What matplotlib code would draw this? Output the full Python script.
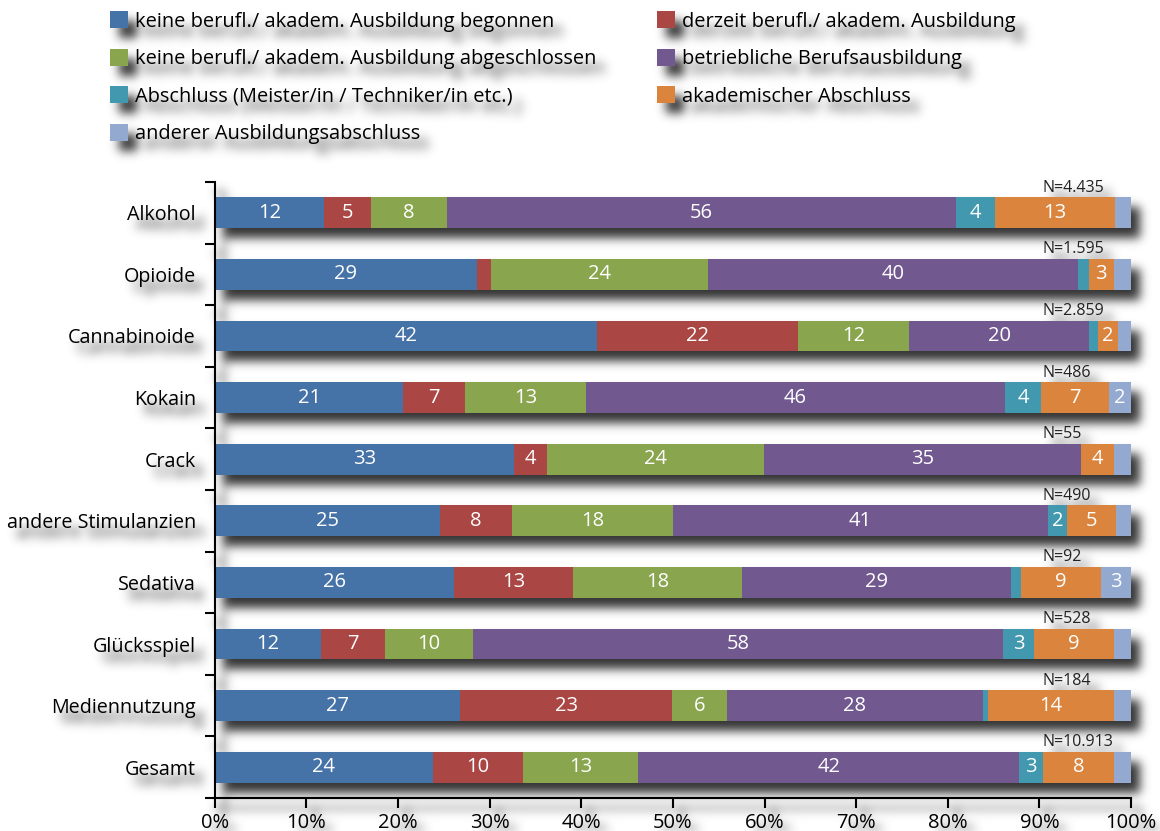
import numpy as np
import matplotlib
matplotlib.use('Agg')
import matplotlib.pyplot as plt

plt.rcParams['font.family'] = ['Open Sans', 'DejaVu Sans']

kategorien = ['Alkohol', 'Opioide', 'Cannabinoide', 'Kokain', 'Crack',
              'andere Stimulanzien', 'Sedativa', 'Glücksspiel',
              'Mediennutzung', 'Gesamt']
fallzahlen = ['N=4.435', 'N=1.595', 'N=2.859', 'N=486', 'N=55',
              'N=490', 'N=92', 'N=528', 'N=184', 'N=10.913']

serien = ['keine berufl./ akadem. Ausbildung begonnen',
          'derzeit berufl./ akadem. Ausbildung',
          'keine berufl./ akadem. Ausbildung abgeschlossen',
          'betriebliche Berufsausbildung',
          'Abschluss (Meister/in / Techniker/in etc.)',
          'akademischer Abschluss',
          'anderer Ausbildungsabschluss']
farben = ['#4572A7', '#AA4643', '#89A54E', '#71588F', '#4198AF', '#DB843D', '#93A9CF']

# Anteile in %, je Kategorie in der Reihenfolge von kategorien
keine_begonnen = [11.9, 28.6, 41.7, 20.6, 32.7, 24.6, 26.1, 11.6, 26.8, 23.8]
derzeit = [5.1, 1.6, 22.0, 6.7, 3.6, 7.8, 13.0, 7.0, 23.1, 9.8]
keine_abgeschlossen = [8.3, 23.6, 12.1, 13.2, 23.6, 17.6, 18.4, 9.6, 6.0, 12.6]
betrieblich = [55.6, 40.4, 19.6, 45.7, 34.6, 40.9, 29.4, 57.8, 27.9, 41.6]
meister = [4.3, 1.2, 1.0, 4.0, 0.0, 2.1, 1.1, 3.4, 0.6, 2.6]
akademisch = [13.0, 2.7, 2.2, 7.4, 3.6, 5.3, 8.7, 8.7, 13.7, 7.7]
anderer = [1.8, 1.9, 1.4, 2.4, 1.9, 1.7, 3.3, 1.9, 1.9, 1.9]

werte = [keine_begonnen, derzeit, keine_abgeschlossen, betrieblich,
         meister, akademisch, anderer]

fig = plt.figure(figsize=(11.6, 8.31), dpi=100)
ax = fig.add_axes([0.1851, 0.0397, 0.790, 0.7413])

y = np.arange(len(kategorien))
links = np.zeros(len(kategorien))
balken = []
for name, vals, col in zip(serien, werte, farben):
    vals = np.array(vals)
    b = ax.barh(y, vals, left=links, height=0.5, color=col, label=name)
    balken.append(b)
    for yi, v, l in zip(y, vals, links):
        if v >= 2.0:
            ax.text(l + v / 2, yi, f'{v:.0f}', ha='center', va='center',
                    color='white', fontsize=14.5)
    links += vals

for yi, n in zip(y, fallzahlen):
    ax.text(90.3, yi - 0.34, n, ha='left', va='baseline', fontsize=11.5,
            color='#222222')

ax.set_xlim(0, 100)
ax.set_ylim(len(kategorien) - 0.5, -0.5)
ax.set_xticks(np.arange(0, 101, 10))
ax.set_xticklabels([f'{t}%' for t in range(0, 101, 10)], fontsize=14.5)
ax.set_yticks(y)
ax.set_yticklabels(kategorien, fontsize=14.2)
ax.set_yticks(np.arange(-0.5, len(kategorien), 1), minor=True)
ax.tick_params(axis='y', which='major', length=0, pad=13.5)
ax.tick_params(axis='y', which='minor', length=7, width=1.5, direction='out')
ax.tick_params(axis='x', length=7, width=1.5, direction='out', pad=4)
for s in ['top', 'right']:
    ax.spines[s].set_visible(False)
for s in ['left', 'bottom']:
    ax.spines[s].set_linewidth(1.5)
ax.patch.set_visible(False)

reihenfolge = [0, 2, 4, 6, 1, 3, 5]
fig.legend([balken[i] for i in reihenfolge], [serien[i] for i in reihenfolge],
           loc='upper left', bbox_to_anchor=(110 / 1160, 1 - 11 / 831),
           ncol=2, frameon=False, fontsize=14.4, borderpad=0, borderaxespad=0,
           handlelength=0.9, handleheight=0.95, handletextpad=0.35,
           labelspacing=0.85, columnspacing=3.05)


def weichzeichnen(a, sigma):
    r = int(3 * sigma)
    k = np.exp(-np.arange(-r, r + 1) ** 2 / (2 * sigma ** 2))
    k /= k.sum()
    h, w = a.shape
    p = np.pad(a, ((0, 0), (r, r)))
    a = sum(k[i] * p[:, i:i + w] for i in range(2 * r + 1))
    p = np.pad(a, ((r, r), (0, 0)))
    return sum(k[i] * p[i:i + h, :] for i in range(2 * r + 1))


# Schlagschatten: Deckung aller Elemente versetzt und unscharf darunterlegen
fig.patch.set_alpha(0)
fig.canvas.draw()
deckung = np.asarray(fig.canvas.buffer_rgba())[..., 3] / 255.0
dx, dy = 9, 10
versetzt = np.zeros_like(deckung)
versetzt[dy:, dx:] = deckung[:-dy, :-dx]
schatten = weichzeichnen(versetzt, 5.0)
bild = np.zeros(deckung.shape + (4,))
bild[..., :3] = 0.2
bild[..., 3] = np.clip(schatten * 1.0, 0, 1)
fig.figimage(bild, xo=0, yo=0, origin='upper', zorder=-1)
fig.patch.set_facecolor('white')
fig.patch.set_alpha(1)

fig.savefig('out.png', dpi=100)
